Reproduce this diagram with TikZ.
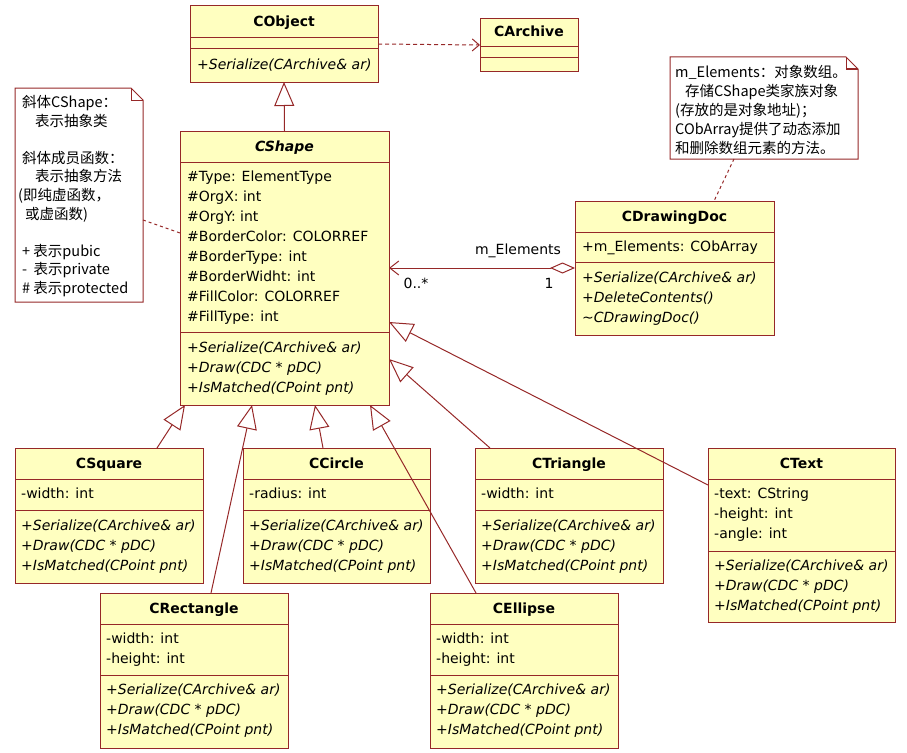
\documentclass[tikz,border=0pt]{standalone}
\usepackage{fontspec}
\setmainfont{DejaVu Sans}
\newfontfamily\cjk{Noto Sans CJK SC}
\usetikzlibrary{arrows.meta}
\definecolor{bdc}{RGB}{150,40,40}
\definecolor{clsfill}{RGB}{255,255,192}
\newcommand{\shapeops}[3]{%
  \node[optxt] (#1-o1) at (#2,#3) {+Serialize(CArchive\& ar)};
  \node[optxt] (#1-o2) at (#2,#3+20) {+Draw(CDC * pDC)};
  \node[optxt] (#1-o3) at (#2,#3+40) {+IsMatched(CPoint pnt)};}
\begin{document}
\begin{tikzpicture}[x=1pt,y=-1pt,
  cls/.style={draw=bdc, fill=clsfill, line width=1pt, inner sep=0pt, outer sep=0pt, anchor=north west},
  div/.style={draw=bdc, line width=1pt},
  ttl/.style={font=\fontsize{14}{16}\selectfont\bfseries, anchor=base, inner sep=0pt},
  attr/.style={font=\fontsize{14}{16}\selectfont, anchor=base west, inner sep=0pt},
  optxt/.style={font=\fontsize{14}{16}\selectfont\itshape, anchor=base west, inner sep=0pt},
  lbl/.style={font=\fontsize{14}{16}\selectfont, anchor=base, inner sep=0pt},
  nt/.style={font=\cjk\fontsize{14.5}{16}\selectfont, anchor=base west, inner sep=0pt},
  notebox/.style={draw=none, inner sep=0pt, outer sep=0pt, anchor=north west},
  notebd/.style={draw=bdc, line width=1pt, fill=white},
  inh/.style={draw=bdc, line width=1pt, -{Triangle[open, length=24pt, width=20pt, fill=white]}},
  dep/.style={draw=bdc, line width=1pt, dash pattern=on 4pt off 3pt, -{Straight Barb[length=7pt, width=12pt]}},
  notelink/.style={draw=bdc, line width=1pt, dash pattern=on 3pt off 3pt},
  assoc/.style={draw=bdc, line width=1pt, {Diamond[open, length=25pt, width=11pt, fill=white]}-{Straight Barb[length=9pt, width=14pt]}}
]
\useasboundingbox (0,0) rectangle (907,752);

% ---------- notes ----------
\node[notebox, minimum width=128pt, minimum height=214pt] (note1) at (15,88) {};
\draw[notebd] (note1.north west) -- ([xshift=-12pt]note1.north east) -- ([yshift=-12pt]note1.north east) -- (note1.south east) -- (note1.south west) -- cycle;
\draw[notebd, fill=none] ([xshift=-12pt]note1.north east) -- ([xshift=-12pt,yshift=-12pt]note1.north east) -- ([yshift=-12pt]note1.north east);
\node[nt] (n1l1) at (22,107.5) {斜体CShape：};
\node[nt] (n1l2) at (35,126) {表示抽象类};
\node[nt] (n1l4) at (22,163.3) {斜体成员函数：};
\node[nt] (n1l5) at (35,181.9) {表示抽象方法};
\node[nt] (n1l6) at (18,200.5) {(即纯虚函数，};
\node[nt] (n1l7) at (25,219.1) {或虚函数)};
\node[nt] (n1l9) at (22,256.3) {+ 表示pubic};
\node[nt] (n1l10) at (22,274.9) {-\ \ 表示private};
\node[nt] (n1l11) at (22,293.5) {\# 表示protected};

\node[notebox, minimum width=188pt, minimum height=102pt] (note2) at (670,57) {};
\draw[notebd] (note2.north west) -- ([xshift=-12pt]note2.north east) -- ([yshift=-12pt]note2.north east) -- (note2.south east) -- (note2.south west) -- cycle;
\draw[notebd, fill=none] ([xshift=-12pt]note2.north east) -- ([xshift=-12pt,yshift=-12pt]note2.north east) -- ([yshift=-12pt]note2.north east);
\node[nt] (n2l1) at (675,77.5) {m\_Elements：对象数组。};
\node[nt] (n2l2) at (685,96.5) {存储CShape类家族对象};
\node[nt] (n2l3) at (675,115.5) {(存放的是对象地址)；};
\node[nt] (n2l4) at (675,134.5) {CObArray提供了动态添加};
\node[nt] (n2l5) at (675,153.5) {和删除数组元素的方法。};

% ---------- CObject ----------
\node[cls, minimum width=188pt, minimum height=76pt] (cobject) at (190,6) {};
\draw[div] (190,38) -- (378,38) (190,49) -- (378,49);
\node[ttl] (cobject-t) at (284,27) {CObject};
\node[optxt] (cobject-o1) at (197,69.5) {+Serialize(CArchive\& ar)};

% ---------- CArchive ----------
\node[cls, minimum width=98pt, minimum height=52pt] (carchive) at (480,19) {};
\draw[div] (480,47) -- (578,47) (480,58) -- (578,58);
\node[ttl] (carchive-t) at (529,37) {CArchive};

% ---------- CShape ----------
\node[cls, minimum width=209pt, minimum height=274pt] (cshape) at (180,131) {};
\draw[div] (180,162) -- (389,162) (180,332) -- (389,332);
\node[ttl, font=\fontsize{14}{16}\selectfont\bfseries\itshape] (cshape-t) at (284.5,151) {CShape};
\foreach \s [count=\i] in {{\#Type: ElementType},{\#OrgX: int},{\#OrgY: int},{\#BorderColor: COLORREF},{\#BorderType: int},{\#BorderWidht: int},{\#FillColor: COLORREF},{\#FillType: int}}
  \node[attr] (cshape-a\i) at (187,161.5+20*\i) {\s};
\shapeops{cshape}{187}{352.5}

% ---------- CDrawingDoc ----------
\node[cls, minimum width=199pt, minimum height=134pt] (cdoc) at (575,201) {};
\draw[div] (575,232) -- (774,232) (575,262) -- (774,262);
\node[ttl] (cdoc-t) at (674.5,221) {CDrawingDoc};
\node[attr] (cdoc-a1) at (582,251.5) {+m\_Elements: CObArray};
\node[optxt] (cdoc-o1) at (582,282.5) {+Serialize(CArchive\& ar)};
\node[optxt] (cdoc-o2) at (582,302.5) {+DeleteContents()};
\node[optxt] (cdoc-o3) at (582,322.5) {\textasciitilde CDrawingDoc()};

% ---------- CSquare ----------
\node[cls, minimum width=188pt, minimum height=135pt] (csquare) at (15,448) {};
\draw[div] (15,479) -- (203,479) (15,510) -- (203,510);
\node[ttl] (csquare-t) at (109,468) {CSquare};
\node[attr] (csquare-a1) at (21,498.5) {-width: int};
\shapeops{csquare}{21}{530.5}

% ---------- CCircle ----------
\node[cls, minimum width=187pt, minimum height=135pt] (ccircle) at (243,448) {};
\draw[div] (243,479) -- (430,479) (243,510) -- (430,510);
\node[ttl] (ccircle-t) at (336.5,468) {CCircle};
\node[attr] (ccircle-a1) at (249,498.5) {-radius: int};
\shapeops{ccircle}{249}{530.5}

% ---------- CTriangle ----------
\node[cls, minimum width=188pt, minimum height=135pt] (ctri) at (475,448) {};
\draw[div] (475,479) -- (663,479) (475,510) -- (663,510);
\node[ttl] (ctri-t) at (569,468) {CTriangle};
\node[attr] (ctri-a1) at (481,498.5) {-width: int};
\shapeops{ctri}{481}{530.5}

% ---------- CText ----------
\node[cls, minimum width=187pt, minimum height=174pt] (ctext) at (708,448) {};
\draw[div] (708,479) -- (895,479) (708,551) -- (895,551);
\node[ttl] (ctext-t) at (801.5,468) {CText};
\node[attr] (ctext-a1) at (714,498.5) {-text: CString};
\node[attr] (ctext-a2) at (714,518.5) {-height: int};
\node[attr] (ctext-a3) at (714,538.5) {-angle: int};
\shapeops{ctext}{714}{570.5}

% ---------- CRectangle ----------
\node[cls, minimum width=188pt, minimum height=155pt] (crect) at (100,593) {};
\draw[div] (100,624) -- (288,624) (100,675) -- (288,675);
\node[ttl] (crect-t) at (194,613) {CRectangle};
\node[attr] (crect-a1) at (106,643.5) {-width: int};
\node[attr] (crect-a2) at (106,663.5) {-height: int};
\shapeops{crect}{106}{694.5}

% ---------- CEllipse ----------
\node[cls, minimum width=188pt, minimum height=155pt] (cell) at (430,593) {};
\draw[div] (430,624) -- (618,624) (430,675) -- (618,675);
\node[ttl] (cell-t) at (524,613) {CEllipse};
\node[attr] (cell-a1) at (436,643.5) {-width: int};
\node[attr] (cell-a2) at (436,663.5) {-height: int};
\shapeops{cell}{436}{694.5}

% ---------- ports ----------
\coordinate (p-sq) at (185,405);  \coordinate (c-sq) at (157,448);
\coordinate (p-re) at (252,405);  \coordinate (c-re) at (211,593);
\coordinate (p-ci) at (315,405);  \coordinate (c-ci) at (323,448);
\coordinate (p-el) at (370,405);  \coordinate (c-el) at (476,593);
\coordinate (p-tr) at (389,359);  \coordinate (c-tr) at (490,448);
\coordinate (p-tx) at (389,322);  \coordinate (c-tx) at (708,485);
\coordinate (n1p) at (143,220);   \coordinate (n1q) at (180,233);
\coordinate (n2p) at (734,159);   \coordinate (n2q) at (714,201);

% ---------- connectors ----------
\draw[inh] (cshape.north) -- (cobject.south);
\draw[inh] (c-sq) -- (p-sq);
\draw[inh] (c-re) -- (p-re);
\draw[inh] (c-ci) -- (p-ci);
\draw[inh] (c-el) -- (p-el);
\draw[inh] (c-tr) -- (p-tr);
\draw[inh] (c-tx) -- (p-tx);
\draw[dep] (cobject.east) -- (carchive.west);
\draw[assoc] (cdoc.west) -- (cdoc.west -| cshape.east);
\draw[notelink] (n1p) -- (n1q);
\draw[notelink] (n2p) -- (n2q);

\node[lbl] (lab-me) at (518,254.5) {m\_Elements};
\node[lbl] (lab-many) at (416,288) {0..*};
\node[lbl] (lab-one) at (549,288) {1};
\end{tikzpicture}
\end{document}
